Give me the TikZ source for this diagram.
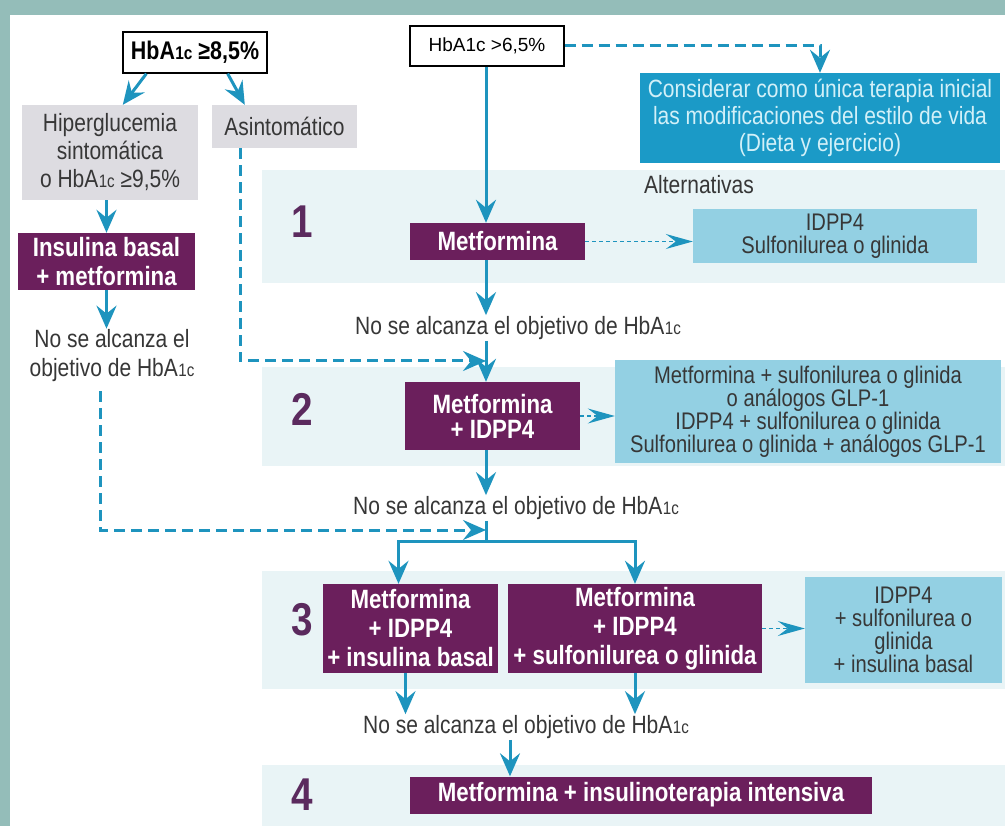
\documentclass[tikz,border=0pt]{standalone}
\usepackage{fontspec}
\setmainfont{Liberation Sans}[FakeStretch=0.84]
\newfontfamily\widefont{Liberation Sans}
\usetikzlibrary{arrows.meta}
\definecolor{frame}{RGB}{148,189,185}
\definecolor{flowblue}{RGB}{30,148,190}
\definecolor{plum}{RGB}{107,31,92}
\definecolor{greybox}{RGB}{221,220,225}
\definecolor{bandtint}{RGB}{233,244,246}
\definecolor{altblue}{RGB}{147,208,227}
\definecolor{lifeblue}{RGB}{27,154,199}
\definecolor{lifetext}{RGB}{210,240,248}
\definecolor{numplum}{RGB}{91,42,94}
\definecolor{ink}{RGB}{55,55,55}
\newcommand{\hbaic}{HbA\kern.4pt\scalebox{.72}{1c}}
\begin{document}
\begin{tikzpicture}[x=1pt,y=-1pt,line join=miter,>=Stealth,
	link/.style={draw=flowblue,line width=3pt},
	flow/.style={link,-{Stealth[length=23pt,width=20pt,inset=8pt]}},
	dashflow/.style={flow,dash pattern=on 11pt off 6pt},
	altflow/.style={draw=flowblue,line width=1.3pt,dash pattern=on 4pt off 3pt,-{Stealth[length=27pt,width=15pt,inset=10pt]}},
	txt/.style={inner sep=1pt,align=center,text=ink,font=\fontsize{25}{22}\selectfont},
	hbbox/.style={draw=black,line width=1.3pt,fill=white,inner sep=0pt,align=center,text=black},
	greyblock/.style={txt,fill=greybox,inner sep=0pt},
	drug/.style={fill=plum,text=white,inner sep=0pt,align=center,font=\bfseries\fontsize{26.5}{29}\selectfont},
	option/.style={txt,fill=altblue,inner sep=0pt,font=\fontsize{24}{23}\selectfont},
	stagenum/.style={text=numplum,font=\bfseries\fontsize{46}{46}\selectfont,inner sep=0pt}]
	\useasboundingbox (0,0) rectangle (1005,826);
	\fill[frame] (0,0) rectangle (1005,826);
	\fill[white] (10,15) rectangle (1005,826);
	\foreach \top/\bot in {170/283,367/466,571/689,765/826}
	\fill[bandtint] (262,\top) rectangle (1005,\bot);
	\foreach \n/\y in {1/222,2/409,3/620,4/795}
	\node[stagenum] (num\n) at (302,\y) {\n};
	\node[hbbox,minimum width=144,minimum height=41,font=\bfseries\fontsize{25.5}{26}\selectfont] (hb85) at (195,52.5) {\hbaic{} ≥8,5\%};
	\node[hbbox,minimum width=154,minimum height=40,font=\widefont\fontsize{19}{20}\selectfont] (hb65) at (487,46) {HbA1c >6,5\%};
	\node[txt,fill=lifeblue,text=lifetext,minimum width=360,minimum height=90,font=\fontsize{25}{27}\selectfont] (life) at (820,118) {Considerar como única terapia inicial\\las modificaciones del estilo de vida\\(Dieta y ejercicio)};
	\node[greyblock,minimum width=176,minimum height=95,font=\fontsize{25}{28}\selectfont] (hip) at (110,152.5) {Hiperglucemia\\sintomática\\o \hbaic{} ≥9,5\%};
	\node[greyblock,minimum width=145,minimum height=43] (asin) at (284.5,126.5) {Asintomático};
	\node[drug,minimum width=177,minimum height=57] (ins) at (106.5,261.5) {Insulina basal\\+ metformina};
	\node[txt,font=\fontsize{25}{29}\selectfont] (noL) at (112,356) {No se alcanza el\\objetivo de \hbaic};
	\node[txt,anchor=west] (alt) at (643,185) {Alternativas};
	\node[drug,minimum width=175,minimum height=37] (met1) at (497.5,241.5) {Metformina};
	\node[option,minimum width=284,minimum height=54] (alt1) at (835,236) {IDPP4\\Sulfonilurea o glinida};
	\node[txt] (no1) at (518,328) {No se alcanza el objetivo de \hbaic};
	\node[drug,minimum width=175,minimum height=68,font=\bfseries\fontsize{26.5}{25}\selectfont] (met2) at (492.5,416) {Metformina\\+ IDPP4};
	\node[option,minimum width=386,minimum height=103] (alt2) at (808,411.5) {Metformina + sulfonilurea o glinida\\o análogos GLP-1\\IDPP4 + sulfonilurea o glinida\\Sulfonilurea o glinida + análogos GLP-1};
	\node[txt] (no2) at (516,508) {No se alcanza el objetivo de \hbaic};
	\node[drug,minimum width=175,minimum height=89] (m3a) at (410.5,628.5) {Metformina\\+ IDPP4\\+ insulina basal};
	\node[drug,minimum width=254,minimum height=89] (m3b) at (635,628.5) {Metformina\\+ IDPP4\\+ sulfonilurea o glinida};
	\node[option,minimum width=197,minimum height=106] (alt3) at (903.5,630) {IDPP4\\+ sulfonilurea o\\glinida\\+ insulina basal};
	\node[txt] (no3) at (526,727) {No se alcanza el objetivo de \hbaic};
	\node[drug,minimum width=462,minimum height=37] (m4) at (641,795) {Metformina + insulinoterapia intensiva};
	\coordinate (main) at (486,0);
	\coordinate (j2) at (486,361);
	\coordinate (j3) at (486,530);
	\coordinate (fork) at (486,541);
	\draw[flow] ([xshift=24]hb85.south west) -- ([xshift=101]hip.north west);
	\draw[flow] ([xshift=-40]hb85.south east) -- ([xshift=33]asin.north west);
	\draw[flow] (ins.north |- hip.south) -- (ins.north);
	\draw[flow] (ins.south) -- (ins.south |- noL.north);
	\draw[dashflow] ([xshift=-12,yshift=-8]noL.south) |- (j3);
	\draw[dashflow] ([xshift=-44.5]asin.south) |- (j2);
	\draw[dashflow] (hb65.east) -| (life.north);
	\draw[flow] (hb65.south -| main) -- (met1.north -| main);
	\draw[flow] (met1.south -| main) -- (no1.north -| main);
	\draw[flow] (no1.south -| main) -- (met2.north -| main);
	\draw[flow] (met2.south -| main) -- (no2.north -| main);
	\draw[link] (no2.south -| main) -- (fork);
	\draw[flow] (fork) -| ([xshift=-12]m3a.north);
	\draw[flow] (fork) -| (m3b.north);
	\foreach \a/\b in {met1/alt1,met2/alt2,m3b/alt3}
	\draw[altflow] (\a.east) -- (\a.east -| \b.west);
	\draw[flow] ([xshift=-5]m3a.south) -- ([xshift=-5]m3a.south |- no3.north);
	\draw[flow] (m3b.south) -- (m3b.south |- no3.north);
	\draw[flow] ([xshift=-16]no3.south) -- ([xshift=-16]no3.south |- m4.north);
\end{tikzpicture}
\end{document}
